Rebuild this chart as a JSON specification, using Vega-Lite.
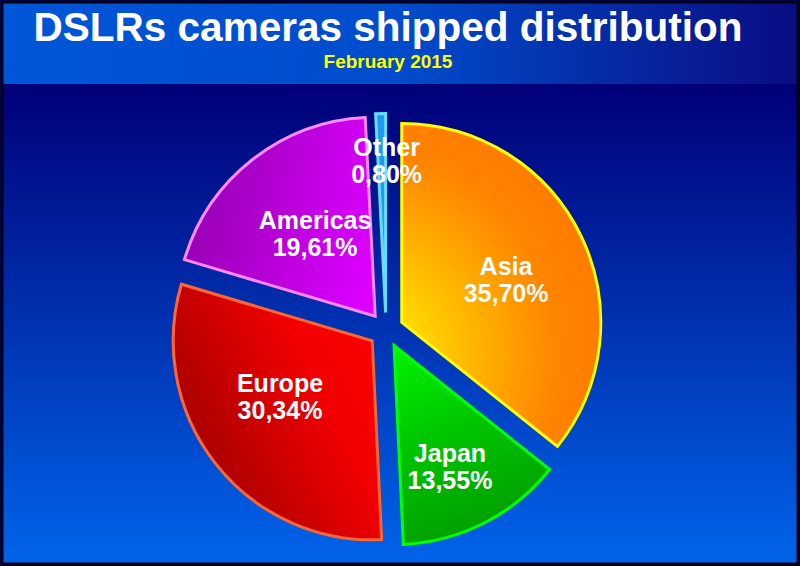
{
  "$schema": "https://vega.github.io/schema/vega-lite/v6.json",
  "width": 800,
  "height": 566,
  "autosize": {"type": "fit", "contains": "padding"},
  "padding": 0,
  "background": "#000070",
  "config": {"view": {"stroke": null}},
  "title": {
    "text": "DSLRs cameras shipped distribution",
    "subtitle": "February 2015",
    "anchor": "middle",
    "frame": "group",
    "offset": -71,
    "dx": -12,
    "font": "Liberation Sans",
    "fontSize": 40.5,
    "fontWeight": "bold",
    "color": "#ffffff",
    "subtitleFont": "Liberation Sans",
    "subtitleFontSize": 19,
    "subtitleFontWeight": "bold",
    "subtitleColor": "#ffff00",
    "subtitlePadding": 3
  },
  "data": {
    "values": [
      {"region": "Asia", "share": 35.70, "label": "Asia\n35,70%"},
      {"region": "Japan", "share": 13.55, "label": "Japan\n13,55%"},
      {"region": "Europe", "share": 30.34, "label": "Europe\n30,34%"},
      {"region": "Americas", "share": 19.61, "label": "Americas\n19,61%"},
      {"region": "Other", "share": 0.80, "label": "Other\n0,80%"}
    ]
  },
  "transform": [{"stack": "share", "groupby": [], "as": ["s0", "s1"]}],
  "layer": [
    {
      "data": {"values": [{}]},
      "mark": {
        "type": "rect", "x": 0, "x2": {"expr": "width"}, "y": 0, "y2": {"expr": "height"},
        "fill": {"gradient": "linear", "x1": 0, "y1": 0, "x2": 0, "y2": 1,
          "stops": [{"offset": 0, "color": "#000070"}, {"offset": 0.15, "color": "#000078"}, {"offset": 1, "color": "#0064ea"}]}
      },
      "encoding": {}
    },
    {
      "data": {"values": [{}]},
      "mark": {
        "type": "rect", "x": 0, "x2": {"expr": "width"}, "y": 0, "y2": 82,
        "fill": {"gradient": "linear", "x1": 0, "y1": 0, "x2": 1, "y2": 0,
          "stops": [{"offset": 0, "color": "#0056d8"}, {"offset": 0.5, "color": "#004ccc"}, {"offset": 1, "color": "#0a0c82"}]}
      },
      "encoding": {}
    },
    {
      "data": {"values": [{}]},
      "mark": {"type": "rule", "x": 0, "x2": {"expr": "width"}, "y": 83, "stroke": "#33ccee", "strokeWidth": 3},
      "encoding": {}
    },
    {
      "transform": [{"filter": "datum.region === 'Asia'"}],
      "layer": [
        {
          "mark": {"type": "arc", "radius": 199, "xOffset": 1.75, "yOffset": 39.4, "stroke": "#ffff00", "strokeWidth": 3,
            "fill": {"gradient": "radial", "x1": 0.04, "y1": 0.72, "x2": 0.04, "y2": 0.72, "r1": 0, "r2": 1,
              "stops": [{"offset": 0, "color": "#ffff00"}, {"offset": 0.2, "color": "#ffd800"}, {"offset": 0.4, "color": "#ffb000"}, {"offset": 0.64, "color": "#ff8400"}, {"offset": 1, "color": "#ff7000"}]}},
          "encoding": {
            "theta": {"field": "s0", "type": "quantitative", "scale": {"domain": [0, 100], "range": [0, 6.283185307179586]}},
            "theta2": {"field": "s1"}
          }
        },
        {
          "mark": {"type": "text", "radius": 130, "thetaOffset": 1.1764, "xOffset": -14, "yOffset": 33.5, "font": "Liberation Sans", "fontWeight": "bold", "fontSize": 25, "lineBreak": "\n", "lineHeight": 27, "align": "center", "baseline": "middle", "fill": "#ffffff"},
          "encoding": {
            "theta": {"field": "s0", "type": "quantitative", "scale": {"domain": [0, 100], "range": [0, 6.283185307179586]}},
            "text": {"field": "label"}
          }
        }
      ]
    },
    {
      "transform": [{"filter": "datum.region === 'Japan'"}],
      "layer": [
        {
          "mark": {"type": "arc", "radius": 199, "xOffset": -6, "yOffset": 62.6, "stroke": "#00ff00", "strokeWidth": 3,
            "fill": {"gradient": "linear", "x1": 0, "y1": 0, "x2": 0.3, "y2": 1,
              "stops": [{"offset": 0, "color": "#00f400"}, {"offset": 0.5, "color": "#00c400"}, {"offset": 1, "color": "#00a000"}]}},
          "encoding": {
            "theta": {"field": "s0", "type": "quantitative", "scale": {"domain": [0, 100], "range": [0, 6.283185307179586]}},
            "theta2": {"field": "s1"}
          }
        },
        {
          "mark": {"type": "text", "radius": 152, "thetaOffset": 0.4639, "xOffset": -14, "yOffset": 33.5, "font": "Liberation Sans", "fontWeight": "bold", "fontSize": 25, "lineBreak": "\n", "lineHeight": 27, "align": "center", "baseline": "middle", "fill": "#ffffff"},
          "encoding": {
            "theta": {"field": "s0", "type": "quantitative", "scale": {"domain": [0, 100], "range": [0, 6.283185307179586]}},
            "text": {"field": "label"}
          }
        }
      ]
    },
    {
      "transform": [{"filter": "datum.region === 'Europe'"}],
      "layer": [
        {
          "mark": {"type": "arc", "radius": 199, "xOffset": -27.8, "yOffset": 57.8, "stroke": "#ff6633", "strokeWidth": 3,
            "fill": {"gradient": "linear", "x1": 1, "y1": 0.1, "x2": 0, "y2": 0.7,
              "stops": [{"offset": 0, "color": "#ff0000"}, {"offset": 0.35, "color": "#f20000"}, {"offset": 1, "color": "#9a0000"}]}},
          "encoding": {
            "theta": {"field": "s0", "type": "quantitative", "scale": {"domain": [0, 100], "range": [0, 6.283185307179586]}},
            "theta2": {"field": "s1"}
          }
        },
        {
          "mark": {"type": "text", "radius": 125.4, "thetaOffset": 1.0542, "xOffset": -14, "yOffset": 33.5, "font": "Liberation Sans", "fontWeight": "bold", "fontSize": 25, "lineBreak": "\n", "lineHeight": 27, "align": "center", "baseline": "middle", "fill": "#ffffff"},
          "encoding": {
            "theta": {"field": "s0", "type": "quantitative", "scale": {"domain": [0, 100], "range": [0, 6.283185307179586]}},
            "text": {"field": "label"}
          }
        }
      ]
    },
    {
      "transform": [{"filter": "datum.region === 'Americas'"}],
      "layer": [
        {
          "mark": {"type": "arc", "radius": 199, "xOffset": -24.8, "yOffset": 33.2, "stroke": "#ff88ff", "strokeWidth": 3,
            "fill": {"gradient": "linear", "x1": 1, "y1": 0.6, "x2": 0, "y2": 0.4,
              "stops": [{"offset": 0, "color": "#dc00ff"}, {"offset": 1, "color": "#9400b0"}]}},
          "encoding": {
            "theta": {"field": "s0", "type": "quantitative", "scale": {"domain": [0, 100], "range": [0, 6.283185307179586]}},
            "theta2": {"field": "s1"}
          }
        },
        {
          "mark": {"type": "text", "radius": 119, "thetaOffset": 0.6436, "xOffset": -14, "yOffset": 33.5, "font": "Liberation Sans", "fontWeight": "bold", "fontSize": 25, "lineBreak": "\n", "lineHeight": 27, "align": "center", "baseline": "middle", "fill": "#ffffff"},
          "encoding": {
            "theta": {"field": "s0", "type": "quantitative", "scale": {"domain": [0, 100], "range": [0, 6.283185307179586]}},
            "text": {"field": "label"}
          }
        }
      ]
    },
    {
      "transform": [{"filter": "datum.region === 'Other'"}],
      "layer": [
        {
          "mark": {"type": "arc", "radius": 199, "xOffset": -14.4, "yOffset": 29.5, "stroke": "#66ddff", "strokeWidth": 3, "fill": "#2298ee"},
          "encoding": {
            "theta": {"field": "s0", "type": "quantitative", "scale": {"domain": [0, 100], "range": [0, 6.283185307179586]}},
            "theta2": {"field": "s1"}
          }
        },
        {
          "mark": {"type": "text", "radius": 168.5, "thetaOffset": 0.0538, "xOffset": -14, "yOffset": 33.5, "font": "Liberation Sans", "fontWeight": "bold", "fontSize": 25, "lineBreak": "\n", "lineHeight": 27, "align": "center", "baseline": "middle", "fill": "#ffffff"},
          "encoding": {
            "theta": {"field": "s0", "type": "quantitative", "scale": {"domain": [0, 100], "range": [0, 6.283185307179586]}},
            "text": {"field": "label"}
          }
        }
      ]
    },
    {
      "data": {"values": [{}]},
      "mark": {"type": "rect", "x": 0, "x2": {"expr": "width"}, "y": 0, "y2": {"expr": "height"}, "fillOpacity": 0, "stroke": "#000010", "strokeWidth": 3},
      "encoding": {}
    }
  ]
}
